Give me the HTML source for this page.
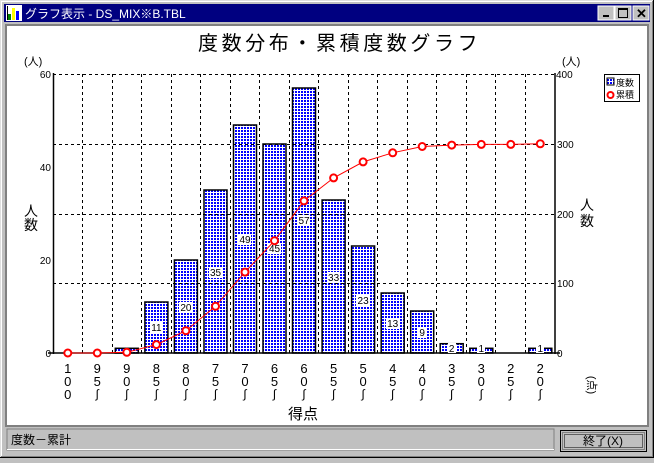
<!DOCTYPE html>
<html><head><meta charset="utf-8"><style>
body{margin:0;width:654px;height:458px;overflow:hidden;background:#c0c0c0;font-family:"Liberation Sans","Noto Sans CJK JP",sans-serif}
</style></head><body>
<svg width="654" height="458" xmlns="http://www.w3.org/2000/svg" font-family="Liberation Sans, Noto Sans CJK JP, sans-serif">
<defs>
<pattern id="dp" width="3" height="3" patternUnits="userSpaceOnUse"><rect width="3" height="3" fill="#fff"/><rect x="1" y="1" width="2" height="2" fill="#0000ff"/></pattern>
</defs>
<rect x="0" y="0" width="654" height="458" fill="#c0c0c0"/>
<line x1="0" y1="0.5" x2="654" y2="0.5" stroke="#dfdfdf"/><line x1="0.5" y1="0" x2="0.5" y2="458" stroke="#dfdfdf"/>
<line x1="1" y1="1.5" x2="652" y2="1.5" stroke="#fff"/><line x1="1.5" y1="1" x2="1.5" y2="456" stroke="#fff"/>
<line x1="0" y1="457.5" x2="654" y2="457.5" stroke="#000"/><line x1="653.5" y1="0" x2="653.5" y2="458" stroke="#000"/>
<line x1="1" y1="456.5" x2="653" y2="456.5" stroke="#808080"/><line x1="652.5" y1="1" x2="652.5" y2="457" stroke="#808080"/>
<rect x="4" y="4" width="646" height="18" fill="#000080"/>
<rect x="6" y="5" width="16" height="16" fill="#fff"/>
<rect x="8" y="14" width="3" height="6" fill="#008000"/><rect x="12" y="8" width="3" height="12" fill="#ffff00"/><rect x="16" y="11" width="3" height="9" fill="#0000ff"/>
<rect x="7" y="6" width="1" height="14" fill="#000"/>
<text x="25" y="18" font-size="12" fill="#fff">グラフ表示 - DS_MIX※B.TBL</text>
<g>
<rect x="598" y="6" width="16" height="14" fill="#c0c0c0" stroke="#fff"/><rect x="603" y="15" width="6" height="2" fill="#000"/>
<rect x="615" y="6" width="16" height="14" fill="#c0c0c0" stroke="#fff"/><rect x="618.5" y="8.5" width="9" height="9" fill="none" stroke="#000"/><line x1="618" y1="9.5" x2="628" y2="9.5" stroke="#000"/>
<rect x="633" y="6" width="16" height="14" fill="#c0c0c0" stroke="#fff"/><text x="636" y="18" font-size="13" font-weight="bold">✕</text>
</g>
<rect x="5" y="24" width="644" height="403" fill="#808080"/>
<rect x="7" y="26" width="640" height="399" fill="#fff"/>
<text x="198" y="50" font-size="20" letter-spacing="3.6">度数分布・累積度数グラフ</text>
<text x="24" y="65" font-size="11">(人)</text>
<text x="562" y="65" font-size="11">(人)</text>
<g fill="url(#dp)" stroke="#000" stroke-width="1.5">
<rect x="115.3" y="348.3" width="23" height="4.7"/>
<rect x="144.9" y="302" width="23" height="51"/>
<rect x="174.4" y="260" width="23" height="93"/>
<rect x="204" y="190" width="23" height="163"/>
<rect x="233.5" y="125" width="23" height="228"/>
<rect x="263" y="144" width="23" height="209"/>
<rect x="292.5" y="88" width="23" height="265"/>
<rect x="322.1" y="200" width="23" height="153"/>
<rect x="351.6" y="246" width="23" height="107"/>
<rect x="381.2" y="293" width="23" height="60"/>
<rect x="410.7" y="311" width="23" height="42"/>
<rect x="440.2" y="343.7" width="23" height="9.3"/>
<rect x="469.8" y="348.3" width="23" height="4.7"/>
<rect x="528.8" y="348.3" width="23" height="4.7"/>
</g>
<g stroke="#000" stroke-dasharray="3,3" stroke-width="1">
<line x1="53" y1="74.5" x2="555" y2="74.5"/>
<line x1="53" y1="144.5" x2="555" y2="144.5"/>
<line x1="53" y1="214.5" x2="555" y2="214.5"/>
<line x1="53" y1="283.5" x2="555" y2="283.5"/>
<line x1="82.5" y1="74" x2="82.5" y2="353"/><line x1="112.5" y1="74" x2="112.5" y2="353"/><line x1="141.5" y1="74" x2="141.5" y2="353"/><line x1="171.5" y1="74" x2="171.5" y2="353"/><line x1="200.5" y1="74" x2="200.5" y2="353"/><line x1="230.5" y1="74" x2="230.5" y2="353"/><line x1="259.5" y1="74" x2="259.5" y2="353"/><line x1="289.5" y1="74" x2="289.5" y2="353"/><line x1="318.5" y1="74" x2="318.5" y2="353"/><line x1="348.5" y1="74" x2="348.5" y2="353"/><line x1="377.5" y1="74" x2="377.5" y2="353"/><line x1="407.5" y1="74" x2="407.5" y2="353"/><line x1="436.5" y1="74" x2="436.5" y2="353"/><line x1="466.5" y1="74" x2="466.5" y2="353"/><line x1="495.5" y1="74" x2="495.5" y2="353"/><line x1="525.5" y1="74" x2="525.5" y2="353"/>
</g>
<g stroke="#000" stroke-width="1.5">
<line x1="53.5" y1="73" x2="53.5" y2="354"/>
<line x1="555" y1="73" x2="555" y2="354"/>
<line x1="48" y1="353" x2="560" y2="353"/>
</g>
<g fill="#fff">
<rect x="150" y="322" width="13" height="11"/><rect x="179" y="302" width="13" height="11"/><rect x="209" y="267" width="13" height="11"/><rect x="238" y="234" width="13" height="11"/><rect x="268" y="243" width="13" height="11"/><rect x="297" y="215" width="13" height="11"/><rect x="327" y="272" width="13" height="11"/><rect x="356" y="295" width="13" height="11"/><rect x="386" y="318" width="13" height="11"/><rect x="418" y="327" width="8" height="11"/><rect x="448" y="343" width="8" height="10"/><rect x="477" y="344" width="8" height="9"/><rect x="536" y="344" width="8" height="9"/>
</g>
<g font-size="10" text-anchor="middle" fill="#000">
<text x="156.4" y="331">11</text><text x="185.9" y="311">20</text><text x="215.5" y="276">35</text><text x="245" y="243">49</text><text x="274.5" y="252">45</text><text x="304" y="224">57</text><text x="333.6" y="281">33</text><text x="363.1" y="304">23</text><text x="392.7" y="327">13</text><text x="422.2" y="336">9</text><text x="451.7" y="352">2</text><text x="481.3" y="352">1</text><text x="540.3" y="352">1</text>
</g>
<polyline fill="none" stroke="#ff0000" stroke-width="1" points="67.8,353 97.3,353 126.8,352.3 156.4,344.6 185.9,330.7 215.5,306.3 245,272.1 274.5,240.7 304,200.9 333.6,177.9 363.1,161.9 392.7,152.8 422.2,146.5 451.7,145.1 481.3,144.4 510.8,144.4 540.3,143.8"/>
<g fill="#fff" stroke="#ff0000" stroke-width="2">
<circle cx="67.8" cy="353" r="3.5"/><circle cx="97.3" cy="353" r="3.5"/><circle cx="126.8" cy="352.3" r="3.5"/><circle cx="156.4" cy="344.6" r="3.5"/><circle cx="185.9" cy="330.7" r="3.5"/><circle cx="215.5" cy="306.3" r="3.5"/><circle cx="245" cy="272.1" r="3.5"/><circle cx="274.5" cy="240.7" r="3.5"/><circle cx="304" cy="200.9" r="3.5"/><circle cx="333.6" cy="177.9" r="3.5"/><circle cx="363.1" cy="161.9" r="3.5"/><circle cx="392.7" cy="152.8" r="3.5"/><circle cx="422.2" cy="146.5" r="3.5"/><circle cx="451.7" cy="145.1" r="3.5"/><circle cx="481.3" cy="144.4" r="3.5"/><circle cx="510.8" cy="144.4" r="3.5"/><circle cx="540.3" cy="143.8" r="3.5"/>
</g>
<g font-size="10" text-anchor="end">
<text x="51" y="78">60</text><text x="51" y="171">40</text><text x="51" y="264">20</text><text x="51" y="357">0</text>
</g>
<g font-size="10">
<text x="556" y="78">400</text><text x="557" y="148">300</text><text x="557" y="218">200</text><text x="557" y="287">100</text><text x="557" y="357">0</text>
</g>
<text x="24" y="216" font-size="14">人</text><text x="24" y="230" font-size="14">数</text>
<text x="580" y="210" font-size="14">人</text><text x="580" y="226" font-size="14">数</text>
<rect x="604.5" y="74.5" width="35" height="27" fill="#fff" stroke="#000"/>
<rect x="607" y="78" width="7" height="7" fill="url(#dp)" stroke="#000"/>
<circle cx="610.5" cy="95" r="3" fill="#fff" stroke="#ff0000" stroke-width="2"/>
<text x="616" y="86" font-size="9">度数</text><text x="616" y="98" font-size="9">累積</text>
<g font-size="13" text-anchor="middle">
<text x="67.8" y="373">1</text><text x="67.8" y="386">0</text><text x="67.8" y="399">0</text>
<text x="97.3" y="373">9</text><text x="97.3" y="386">5</text>
<text x="126.8" y="373">9</text><text x="126.8" y="386">0</text>
<text x="156.4" y="373">8</text><text x="156.4" y="386">5</text>
<text x="185.9" y="373">8</text><text x="185.9" y="386">0</text>
<text x="215.5" y="373">7</text><text x="215.5" y="386">5</text>
<text x="245" y="373">7</text><text x="245" y="386">0</text>
<text x="274.5" y="373">6</text><text x="274.5" y="386">5</text>
<text x="304" y="373">6</text><text x="304" y="386">0</text>
<text x="333.6" y="373">5</text><text x="333.6" y="386">5</text>
<text x="363.1" y="373">5</text><text x="363.1" y="386">0</text>
<text x="392.7" y="373">4</text><text x="392.7" y="386">5</text>
<text x="422.2" y="373">4</text><text x="422.2" y="386">0</text>
<text x="451.7" y="373">3</text><text x="451.7" y="386">5</text>
<text x="481.3" y="373">3</text><text x="481.3" y="386">0</text>
<text x="510.8" y="373">2</text><text x="510.8" y="386">5</text>
<text x="540.3" y="373">2</text><text x="540.3" y="386">0</text>
</g>
<g font-size="12" text-anchor="middle">
<text x="97.3" y="398">∫</text><text x="126.8" y="398">∫</text><text x="156.4" y="398">∫</text><text x="185.9" y="398">∫</text><text x="215.5" y="398">∫</text><text x="245" y="398">∫</text><text x="274.5" y="398">∫</text><text x="304" y="398">∫</text><text x="333.6" y="398">∫</text><text x="363.1" y="398">∫</text><text x="392.7" y="398">∫</text><text x="422.2" y="398">∫</text><text x="451.7" y="398">∫</text><text x="481.3" y="398">∫</text><text x="510.8" y="398">∫</text><text x="540.3" y="398">∫</text>
<text transform="translate(588,385) rotate(90)" font-size="11">(点)</text>
</g>
<text x="288" y="419" font-size="15">得点</text>
<rect x="7" y="429" width="547" height="21" fill="#c0c0c0" stroke="#808080"/>
<line x1="7" y1="449.5" x2="554" y2="449.5" stroke="#fff"/>
<text x="11" y="444" font-size="12">度数－累計</text>
<rect x="560.5" y="430.5" width="86" height="21" fill="#c0c0c0" stroke="#000" stroke-width="1"/>
<rect x="562.5" y="432.5" width="82" height="17" fill="none" stroke="#808080"/>
<rect x="564.5" y="434.5" width="78" height="13" fill="none" stroke="#000" stroke-dasharray="1,1"/>
<text x="603" y="445" font-size="12" text-anchor="middle" fill="#000">終了(X)</text>
</svg>
</body></html>
